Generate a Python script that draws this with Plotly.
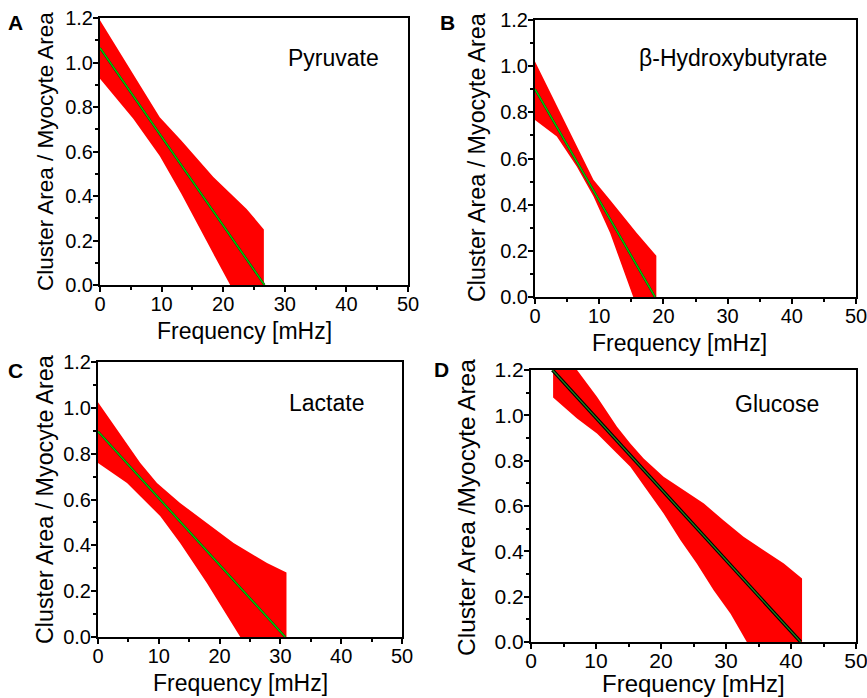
import plotly.graph_objects as go

# ---------------- data ----------------
panel_letters = ["A", "B", "C", "D"]
panel_names = ["Pyruvate", "β-Hydroxybutyrate", "Lactate", "Glucose"]

# Panel A: Pyruvate
a_line_x = [0, 26.7]
a_line_y = [1.065, 0.0]
a_up_x = [0, 4.5, 9.7, 13.2, 18.4, 23.8, 26.6]
a_up_y = [1.19, 0.985, 0.754, 0.65, 0.485, 0.342, 0.25]
a_lo_x = [0, 5.4, 9.7, 13.2, 18.4, 21.1, 26.6]
a_lo_y = [0.927, 0.747, 0.58, 0.41, 0.14, 0.0, -0.28]

# Panel B: beta-Hydroxybutyrate
b_line_x = [0, 18.7]
b_line_y = [0.90, 0.0]
b_up_x = [0, 4.5, 9.1, 11.7, 15.85, 18.9]
b_up_y = [1.02, 0.77, 0.508, 0.42, 0.277, 0.179]
b_lo_x = [0, 3.4, 6.5, 9.1, 11.7, 15.3, 18.9]
b_lo_y = [0.767, 0.695, 0.565, 0.436, 0.277, 0.0, -0.28]

# Panel C: Lactate
c_line_x = [0, 30.8]
c_line_y = [0.897, 0.0]
c_up_x = [0, 6.96, 9.7, 13.5, 17.9, 22.3, 27.8, 31.0]
c_up_y = [1.024, 0.759, 0.672, 0.585, 0.497, 0.41, 0.323, 0.282]
c_lo_x = [0, 4.77, 8.06, 10.25, 13.5, 17.9, 23.4, 31.0]
c_lo_y = [0.759, 0.672, 0.585, 0.527, 0.41, 0.236, 0.0, -0.3]

# Panel D: Glucose
d_line_x = [3.3, 41.5]
d_line_y = [1.2, 0.0]
d_up_x = [3.4, 7.08, 10.15, 13.23, 15.28, 17.33, 20.4, 23.5, 26.6, 29.6, 32.7, 35.8, 38.9, 41.7]
d_up_y = [1.36, 1.2, 1.082, 0.95, 0.876, 0.81, 0.729, 0.67, 0.611, 0.537, 0.464, 0.405, 0.346, 0.28]
d_lo_x = [3.4, 7.08, 10.15, 13.23, 15.28, 17.85, 20.4, 23.0, 25.5, 28.1, 30.7, 33.2, 41.7]
d_lo_y = [1.079, 0.986, 0.92, 0.832, 0.773, 0.67, 0.567, 0.449, 0.346, 0.228, 0.125, 0.0, -0.35]

x_tick_vals = [0, 10, 20, 30, 40, 50]
y_tick_vals = [0.0, 0.2, 0.4, 0.6, 0.8, 1.0, 1.2]
y_tick_text = ["0.0", "0.2", "0.4", "0.6", "0.8", "1.0", "1.2"]

panels = [
    (a_line_x, a_line_y, a_up_x, a_up_y, a_lo_x, a_lo_y),
    (b_line_x, b_line_y, b_up_x, b_up_y, b_lo_x, b_lo_y),
    (c_line_x, c_line_y, c_up_x, c_up_y, c_lo_x, c_lo_y),
    (d_line_x, d_line_y, d_up_x, d_up_y, d_lo_x, d_lo_y),
]

# ---------------- layout geometry (screen pixels in 867x698) ----------------
W, H = 867, 698
areas = [  # (left, right, top, bottom)
    (100, 408, 18, 285),
    (535, 856, 20, 297),
    (98, 402, 362, 637),
    (531, 856, 370, 642),
]
ytitles = ["Cluster Area / Myocyte Area", "Cluster Area / Myocyte Area",
           "Cluster Area / Myocyte Area", "Cluster Area /Myocyte Area"]
xtitle_pos = [(244, 331), (679, 343), (240, 683), (693, 683)]
xtitle_size = [23, 23, 23, 24]
ytitle_pos = [(45, 152), (477, 158), (45, 500), (466, 507)]
ytitle_size = [22.5, 23.3, 23.3, 24.5]
tick_size = [20, 20, 20, 21]
x_label_shift = [-5, -5, -5, -6]
letter_pos = [(15, 22), (447, 22), (15, 370), (441, 369)]
name_pos = [(333, 58), (733, 58), (326, 403), (777, 404)]

FONT = "Liberation Sans, Arial, sans-serif"


def px(x):
    return x / W


def py(y):
    return 1 - y / H


fig = go.Figure()
annotations = []

for i, (lx, ly, ux, uy, dx, dy) in enumerate(panels):
    n = i + 1
    xa = "x" if n == 1 else f"x{n}"
    ya = "y" if n == 1 else f"y{n}"
    poly_x = list(ux) + list(reversed(dx))
    poly_y = list(uy) + list(reversed(dy))
    fig.add_trace(go.Scatter(x=poly_x, y=poly_y, fill="toself", fillcolor="#ff0000",
                             mode="lines", line=dict(width=0, color="#ff0000"),
                             xaxis=xa, yaxis=ya, showlegend=False, hoverinfo="skip"))
    if n == 4:
        fig.add_trace(go.Scatter(x=lx, y=ly, mode="lines", line=dict(color="#000000", width=3.5),
                                 xaxis=xa, yaxis=ya, showlegend=False))
        fig.add_trace(go.Scatter(x=lx, y=ly, mode="lines", line=dict(color="#1f8a1f", width=1.2),
                                 xaxis=xa, yaxis=ya, showlegend=False))
    else:
        fig.add_trace(go.Scatter(x=lx, y=ly, mode="lines", line=dict(color="#202020", width=2.2),
                                 xaxis=xa, yaxis=ya, showlegend=False))
        fig.add_trace(go.Scatter(x=lx, y=ly, mode="lines", line=dict(color="#00cc00", width=1.5),
                                 xaxis=xa, yaxis=ya, showlegend=False))

    l, r, t, b = areas[i]
    axis_common = dict(showline=True, linecolor="black", linewidth=2, mirror=True,
                       showgrid=False, zeroline=False, ticks="outside", ticklen=5,
                       tickwidth=1.5, tickcolor="black", automargin=False,
                       ticklabeloverflow="allow",
                       tickfont=dict(family=FONT, size=tick_size[i], color="black"))
    xkey = "xaxis" if n == 1 else f"xaxis{n}"
    ykey = "yaxis" if n == 1 else f"yaxis{n}"
    fig.update_layout({
        xkey: dict(axis_common, domain=[px(l), px(r)], range=[0, 50], anchor=ya,
                   tickvals=x_tick_vals, ticklabelstandoff=x_label_shift[i],
                   minor=dict(dtick=5, ticks="outside", ticklen=3, tickwidth=1.5, tickcolor="black")),
        ykey: dict(axis_common, domain=[py(b), py(t)], range=[0, 1.2], anchor=xa,
                   tickvals=y_tick_vals, ticktext=y_tick_text, ticklabelstandoff=-4,
                   minor=dict(dtick=0.1, ticks="outside", ticklen=3, tickwidth=1.5, tickcolor="black")),
    })

    xt = xtitle_pos[i]
    annotations.append(dict(text="Frequency [mHz]", x=px(xt[0]), y=py(xt[1]),
                            xref="paper", yref="paper", showarrow=False,
                            xanchor="center", yanchor="middle",
                            font=dict(family=FONT, size=xtitle_size[i], color="black")))
    yt = ytitle_pos[i]
    annotations.append(dict(text=ytitles[i], x=px(yt[0]), y=py(yt[1]),
                            xref="paper", yref="paper", showarrow=False, textangle=-90,
                            xanchor="center", yanchor="middle",
                            font=dict(family=FONT, size=ytitle_size[i], color="black")))
    lp = letter_pos[i]
    annotations.append(dict(text="<b>" + panel_letters[i] + "</b>", x=px(lp[0]), y=py(lp[1]),
                            xref="paper", yref="paper", showarrow=False,
                            xanchor="center", yanchor="middle",
                            font=dict(family=FONT, size=21, color="black")))
    npos = name_pos[i]
    annotations.append(dict(text=panel_names[i], x=px(npos[0]), y=py(npos[1]),
                            xref="paper", yref="paper", showarrow=False,
                            xanchor="center", yanchor="middle",
                            font=dict(family=FONT, size=23, color="black")))

fig.update_layout(width=W, height=H, margin=dict(l=0, r=0, t=0, b=0, autoexpand=False),
                  paper_bgcolor="white", plot_bgcolor="white",
                  annotations=annotations, showlegend=False)

# remove the default page margin so the figure sits at the window's top-left corner
fig.write_html("out.html", config={"displayModeBar": False},
               post_script="document.body.style.margin='0';document.body.style.overflow='hidden';")
